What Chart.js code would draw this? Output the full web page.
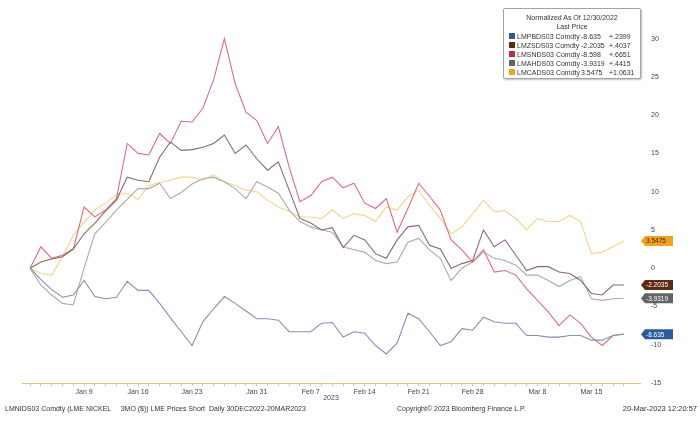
<!DOCTYPE html>
<html>
<head>
<meta charset="utf-8">
<script src="https://cdn.jsdelivr.net/npm/chart.js@4.4.1/dist/chart.umd.min.js"></script>
<style>
html, body { margin: 0; padding: 0; background: #fff; }
#wrap { position: relative; width: 700px; height: 426px; overflow: hidden;
  font-family: "Liberation Sans", Arial, sans-serif; color: #333; }
#chart { position: absolute; left: 0; top: 0; }
.legend { position: absolute; left: 503px; top: 8px; width: 136px; height: 69px; background: #fff;
  border: 1px solid #a3a3a3; border-radius: 2px; box-shadow: 1px 1px 2px rgba(0,0,0,0.25); font-size: 7px; color: #333; }
.legend .ttl { position: absolute; left: 0; width: 136px; text-align: center; }
.legend .row { position: absolute; left: 5px; height: 9px; line-height: 9px; width: 130px; }
.legend .sq { position: absolute; left: 0; top: 1px; width: 6px; height: 6px; }
.legend .nm { position: absolute; left: 8px; }
.legend .lv { position: absolute; left: 72px; }
.legend .ch { position: absolute; left: 100px; }
.foot { position: absolute; top: 405px; font-size: 7px; color: #333; white-space: pre; }
</style>
</head>
<body>
<div id="wrap">
  <canvas id="chart" width="700" height="426"></canvas>
  <div class="legend" id="legend"></div>
  <div class="foot" style="left:5px">LMNIDS03 Comdty (LME NICKEL     3MO ($)) LME Prices Short  Daily 30DEC2022-20MAR2023</div>
  <div class="foot" style="left:397px">Copyright© 2023 Bloomberg Finance L.P.</div>
  <div class="foot" style="right:3px; font-size:7.5px; top:404px">20-Mar-2023 12:20:57</div>
</div>
<script>
// trading days 30 Dec 2022 - 20 Mar 2023
const dates = [
  'Dec 30', 'Jan 3', 'Jan 4', 'Jan 5', 'Jan 6',
  'Jan 9', 'Jan 10', 'Jan 11', 'Jan 12', 'Jan 13',
  'Jan 16', 'Jan 17', 'Jan 18', 'Jan 19', 'Jan 20',
  'Jan 23', 'Jan 24', 'Jan 25', 'Jan 26', 'Jan 27',
  'Jan 30', 'Jan 31', 'Feb 1', 'Feb 2', 'Feb 3',
  'Feb 6', 'Feb 7', 'Feb 8', 'Feb 9', 'Feb 10',
  'Feb 13', 'Feb 14', 'Feb 15', 'Feb 16', 'Feb 17',
  'Feb 20', 'Feb 21', 'Feb 22', 'Feb 23', 'Feb 24',
  'Feb 27', 'Feb 28', 'Mar 1', 'Mar 2', 'Mar 3',
  'Mar 6', 'Mar 7', 'Mar 8', 'Mar 9', 'Mar 10',
  'Mar 13', 'Mar 14', 'Mar 15', 'Mar 16', 'Mar 17',
  'Mar 20'
];
const tickDays = ['Jan 9', 'Jan 16', 'Jan 23', 'Jan 31', 'Feb 7', 'Feb 14', 'Feb 21', 'Feb 28', 'Mar 8', 'Mar 15'];
const yTicks = [-15, -10, -5, 0, 5, 10, 15, 20, 25, 30];

const names = ['LMPBDS03 Comdty', 'LMZSDS03 Comdty', 'LMSNDS03 Comdty', 'LMAHDS03 Comdty', 'LMCADS03 Comdty'];
const lastPrice = ['-8.635', '-2.2035', '-8.598', '-3.9319', '3.5475'];
const changes = ['+.2399', '+.4037', '+.6651', '+.4415', '+1.0631'];

const lead = [0, -1.5, -2.8, -3.8, -3.5, -1.6, -3.7, -4.0, -3.8, -1.7,
  -2.9, -2.9, -4.6, -6.5, -8.3, -10.1, -7.0, -5.3, -3.7, -4.6,
  -5.6, -6.6, -6.6, -6.8, -8.3, -8.3, -8.3, -7.2, -7.1, -9.0,
  -8.3, -8.5, -10.1, -11.2, -9.8, -5.9, -6.6, -8.3, -10.1, -9.6,
  -7.9, -8.1, -6.4, -7.0, -7.2, -7.2, -8.8, -8.8, -9.0, -9.0,
  -8.8, -8.8, -9.4, -9.4, -8.8, -8.635];
const zinc = [0, 0.8, 1.2, 1.5, 2.5, 4.5, 5.9, 7.5, 8.9, 11.9,
  11.5, 11.3, 14.5, 16.5, 15.4, 15.5, 15.8, 16.3, 17.4, 15.0,
  16.1, 14.3, 12.8, 13.9, 10.2, 6.5, 5.9, 5.0, 5.3, 2.7,
  4.3, 3.7, 1.9, 1.3, 3.7, 5.4, 5.6, 3.0, 2.5, 0.0,
  0.6, 1.0, 5.0, 2.8, 3.7, 1.7, -0.3, 0.2, 0.2, -0.5,
  -0.7, -1.6, -3.3, -3.5, -2.2, -2.2035];
const tin = [0, 2.8, 1.3, 1.7, 2.5, 8.0, 6.7, 7.6, 9.1, 16.3,
  15.0, 14.8, 17.6, 16.3, 19.2, 19.1, 20.9, 24.6, 30.0, 24.1,
  20.4, 19.3, 16.3, 18.5, 13.2, 8.7, 9.5, 11.3, 11.9, 10.5,
  11.1, 8.5, 7.8, 9.1, 4.7, 7.8, 11.1, 9.4, 7.6, 3.7,
  2.4, 0.8, 2.4, -0.5, -0.3, -0.9, -2.7, -4.2, -5.7, -7.5,
  -6.1, -7.2, -9.0, -10.1, -8.8, -8.598];
const alum = [0, -2.2, -3.5, -4.6, -4.8, 0.0, 4.5, 6.0, 7.6, 9.0,
  10.4, 10.4, 11.1, 9.1, 9.9, 11.0, 11.7, 11.9, 11.3, 10.4,
  9.1, 11.3, 10.6, 9.8, 7.6, 6.1, 5.4, 5.0, 4.7, 2.8,
  2.4, 2.1, 1.0, 0.6, 0.8, 3.4, 3.9, 2.4, 1.3, -1.6,
  0.0, 0.8, 2.1, 1.3, 1.0, 0.4, -0.9, -0.9, -1.6, -2.4,
  -1.6, -1.1, -4.0, -4.2, -4.0, -3.9319];
const copper = [0, -0.7, -0.9, 1.5, 4.3, 6.0, 7.6, 8.5, 9.6, 9.8,
  9.0, 10.8, 11.2, 11.5, 11.9, 11.9, 11.5, 12.2, 11.3, 10.8,
  10.2, 10.0, 8.9, 8.0, 7.4, 6.7, 6.7, 6.5, 7.6, 6.5,
  7.1, 6.9, 6.1, 8.0, 7.6, 9.3, 10.2, 8.2, 6.5, 4.5,
  5.4, 7.1, 8.9, 7.4, 7.5, 6.5, 5.0, 6.5, 6.1, 6.1,
  6.9, 6.1, 1.9, 2.1, 2.8, 3.5475];

const seriesData = [lead, zinc, tin, alum, copper];
const lineColors = ['#8191b8', '#8d6b60', '#dd6e80', '#ababab', '#f1d58f'];
const tagColors = ['#2d5a9a', '#5e2b12', '#c62a40', '#626262', '#f3a11f'];
const tagText = ['#fff', '#fff', '#fff', '#fff', '#3b2a06'];
const tagShown = [true, true, false, true, true];

const FONT = '"Liberation Sans", Arial, sans-serif';

// legend box
const legend = document.getElementById('legend');
legend.innerHTML = '<div class="ttl" style="top:5px">Normalized As Of 12/30/2022</div>' +
  '<div class="ttl" style="top:14px">Last Price</div>';
names.forEach((n, i) => {
  const row = document.createElement('div');
  row.className = 'row';
  row.style.top = (23 + i * 9) + 'px';
  row.innerHTML = `<span class="sq" style="background:${tagColors[i]}"></span>` +
    `<span class="nm">${n}</span><span class="lv">${lastPrice[i]}</span><span class="ch">${changes[i]}</span>`;
  legend.appendChild(row);
});

// last value tags on the right axis
const lastTags = {
  id: 'lastTags',
  afterDraw(chart) {
    const ctx = chart.ctx;
    const yS = chart.scales.y;
    const x0 = chart.chartArea.right + 1;
    ctx.save();
    ctx.font = '6.5px ' + FONT;
    ctx.textBaseline = 'middle';
    seriesData.forEach((d, i) => {
      if (!tagShown[i]) return;
      const y = yS.getPixelForValue(d[d.length - 1]);
      ctx.fillStyle = tagColors[i];
      ctx.beginPath();
      ctx.moveTo(x0, y);
      ctx.lineTo(x0 + 4, y - 5);
      ctx.lineTo(x0 + 32, y - 5);
      ctx.lineTo(x0 + 32, y + 5);
      ctx.lineTo(x0 + 4, y + 5);
      ctx.closePath();
      ctx.fill();
      ctx.fillStyle = tagText[i];
      ctx.fillText(lastPrice[i], x0 + 5, y + 0.5);
    });
    ctx.restore();
  }
};

new Chart(document.getElementById('chart'), {
  type: 'line',
  data: {
    datasets: seriesData.map((d, i) => ({
      label: names[i],
      data: d.map((v, j) => ({ x: j, y: v })),
      borderColor: lineColors[i],
      borderWidth: 1.1,
      pointRadius: 0,
      tension: 0
    }))
  },
  options: {
    responsive: false,
    animation: false,
    layout: { padding: { left: 22, top: 8, right: 0, bottom: 15 } },
    plugins: { legend: { display: false }, tooltip: { enabled: false } },
    scales: {
      x: {
        type: 'linear',
        min: -0.75,
        max: 56.5,
        afterBuildTicks: s => { s.ticks = dates.map((d, i) => ({ value: i })); },
        afterFit: s => { s.height = 28; },
        ticks: {
          autoSkip: false,
          maxRotation: 0,
          padding: 2,
          color: '#444',
          font: { family: FONT, size: 7 },
          callback: v => tickDays.includes(dates[v]) ? dates[v] : ''
        },
        grid: { drawOnChartArea: false, tickLength: 3, color: '#e4c778' },
        border: { display: true, color: '#e4c778' },
        title: { display: true, text: '2023', color: '#444', font: { family: FONT, size: 7 }, padding: { top: 0, bottom: 9 } }
      },
      y: {
        position: 'right',
        min: -15,
        max: 34,
        afterBuildTicks: s => { s.ticks = yTicks.map(v => ({ value: v })); },
        afterFit: s => { s.width = 60; },
        ticks: { padding: 3, color: '#444', font: { family: FONT, size: 7 } },
        grid: { display: false },
        border: { display: false }
      }
    }
  },
  plugins: [lastTags]
});
</script>
</body>
</html>
